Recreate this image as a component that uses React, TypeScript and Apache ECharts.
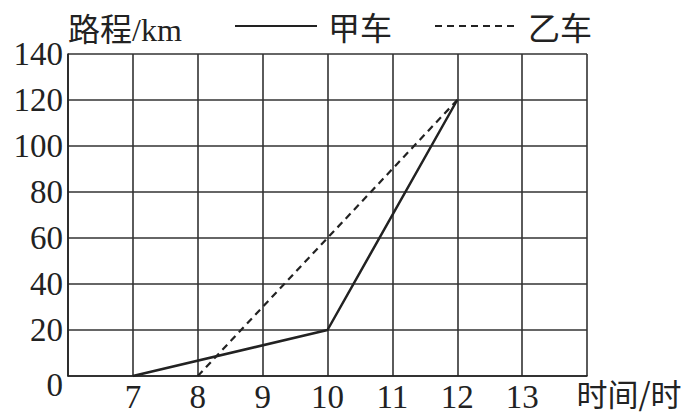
import React, { useEffect, useRef } from "react";
import * as echarts from "echarts";

const xTicks = [6, 7, 8, 9, 10, 11, 12, 13, 14];
const shownXLabels = [7, 8, 9, 10, 11, 12, 13];
const yTicks = [0, 20, 40, 60, 80, 100, 120, 140];
const carA = [
  [7, 0],
  [10, 20],
  [12, 120],
];
const carB = [
  [8, 0],
  [12, 120],
];
const seriesNames = ["甲车", "乙车"];
const yTitle = "路程/km";
const xTitle = "时间/时";

const FONT = '"Liberation Serif", "Times New Roman", "Noto Sans CJK SC", serif';
const CJK = '"Noto Sans CJK SC", "Liberation Serif", serif';

export default function App() {
  const ref = useRef<HTMLDivElement>(null);
  useEffect(() => {
    if (!ref.current) return;
    const chart = echarts.init(ref.current, undefined, { renderer: "svg" });
    chart.setOption({
      animation: false,
      backgroundColor: "#fff",
      grid: { left: 68, right: 106, top: 54, bottom: 38 },
      graphic: [
        {
          type: "text",
          left: 68,
          top: 14,
          style: {
            text: yTitle,
            font: '32px "Liberation Serif", "Noto Sans CJK SC", serif',
            fill: "#222",
          },
        },
      ],
      legend: {
        data: seriesNames,
        left: 229,
        top: 5,
        itemWidth: 82,
        itemHeight: 14,
        itemGap: 42,
        itemStyle: { opacity: 0 },
        textStyle: { fontFamily: CJK, fontSize: 32, color: "#222", padding: [0, 0, 0, 6] },
      },
      xAxis: {
        type: "value",
        min: xTicks[0],
        max: xTicks[xTicks.length - 1],
        interval: 1,
        name: xTitle,
        nameLocation: "end",
        nameGap: 42,
        nameTextStyle: {
          fontFamily: CJK,
          fontSize: 31,
          color: "#222",
          align: "center",
          verticalAlign: "top",
          padding: [1, 0, 0, 0],
        },
        axisLine: { show: true, lineStyle: { color: "#222", width: 1.6 } },
        axisTick: { show: false },
        axisLabel: {
          margin: 4,
          fontFamily: FONT,
          fontSize: 33,
          color: "#222",
          formatter: (v: number) => (shownXLabels.includes(v) ? String(v) : ""),
        },
        splitLine: { show: true, lineStyle: { color: "#333", width: 1.6 } },
      },
      yAxis: {
        type: "value",
        min: yTicks[0],
        max: yTicks[yTicks.length - 1],
        interval: 20,
        axisLine: { show: true, lineStyle: { color: "#222", width: 1.6 } },
        axisTick: { show: false },
        axisLabel: {
          margin: 5,
          fontFamily: FONT,
          fontSize: 33,
          color: "#222",
          formatter: (v: number) => (v === 0 ? "{z|0}" : String(v)),
          rich: {
            z: { fontFamily: FONT, fontSize: 33, color: "#222", padding: [18, 0, 0, 0] },
          },
        },
        splitLine: { show: true, lineStyle: { color: "#333", width: 1.6 } },
      },
      series: [
        {
          name: seriesNames[0],
          type: "line",
          data: carA,
          symbol: "none",
          lineStyle: { color: "#222", width: 2.5, type: "solid" },
          itemStyle: { color: "#222" },
        },
        {
          name: seriesNames[1],
          type: "line",
          data: carB,
          symbol: "none",
          lineStyle: { color: "#222", width: 2.2, type: [7, 5] },
          itemStyle: { color: "#222" },
        },
      ],
    });
    return () => chart.dispose();
  }, []);
  return <div ref={ref} style={{ width: 693, height: 414, position: "absolute", left: 0, top: 0 }} />;
}
